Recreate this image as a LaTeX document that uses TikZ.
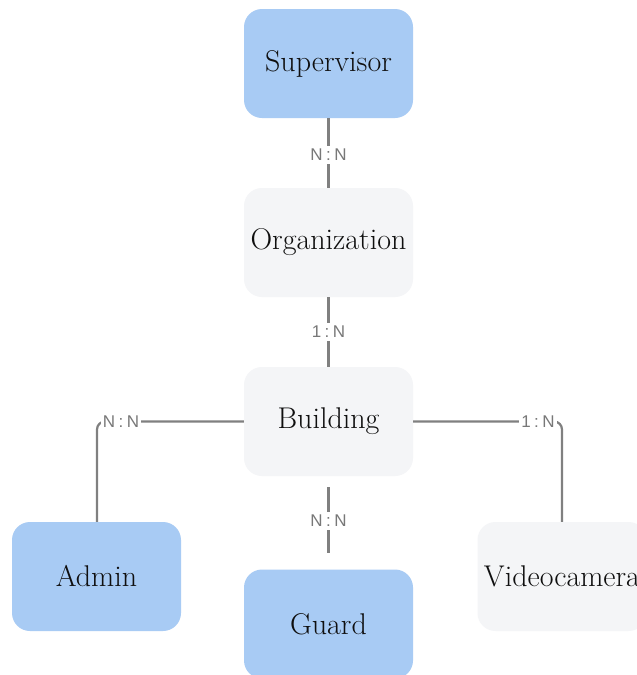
\documentclass[tikz,border=0pt]{standalone}
\usepackage{fontspec}
\newfontfamily\labelfont{Liberation Sans}
\definecolor{entblue}{RGB}{168,203,244}
\definecolor{entgray}{RGB}{244,245,247}
\definecolor{linkgray}{RGB}{128,128,128}
\definecolor{labelgray}{RGB}{120,120,120}
\definecolor{inkdark}{RGB}{15,15,15}
\newcommand{\colonsep}{\hspace{3.5pt}:\hspace{3.5pt}}
\begin{document}
\begin{tikzpicture}[x=1pt,y=-1pt,
  entity/.style={rounded corners=18pt, minimum width=169pt, minimum height=109pt,
    inner sep=0pt, text=inkdark, font=\fontsize{30}{33}\selectfont},
  keyent/.style={entity, fill=entblue},
  plainent/.style={entity, fill=entgray},
  link/.style={draw=linkgray, line width=2.2pt},
  card/.style={fill=white, text=labelgray, inner sep=3pt,
    font=\labelfont\fontsize{17}{19}\selectfont}
]
\useasboundingbox (0,0) rectangle (637,675);
\fill[white] (0,0) rectangle (637,675);

% entities
\node[keyent]   (sup)  at (328.5,63.5)  {Supervisor};
\node[plainent] (org)  at (328.5,242.5) {Organization};
\node[plainent] (bld)  at (328.5,421.5) {Building};
\node[keyent]   (adm)  at (96.5,576.5)  {Admin};
\node[keyent]   (grd)  at (328.5,624)   {Guard};
\node[plainent] (cam)  at (562,576.5)   {Videocamera};

% relationships
\draw[link] (sup.south) -- (org.north);
\node[card] (c1) at (328.5,155) {N\colonsep N};

\draw[link] (org.south) -- (bld.north);
\node[card] (c2) at (328.5,332) {1\colonsep N};

\coordinate (admturn) at (97,421.5);
\draw[link, rounded corners=8pt] (bld.west) -- (admturn) -- (adm.north -| admturn);
\node[card, inner sep=2pt] (c3) at (121,422) {N\colonsep N};

\coordinate (camturn) at (562,421.5);
\draw[link, rounded corners=8pt] (bld.east) -- (camturn) -- (cam.north);
\node[card, inner sep=2pt] (c4) at (538,422) {1\colonsep N};

\draw[link, shorten <=11pt, shorten >=16pt] (bld.south) -- (grd.north);
\node[card] (c5) at (328.5,521) {N\colonsep N};
\end{tikzpicture}
\end{document}
